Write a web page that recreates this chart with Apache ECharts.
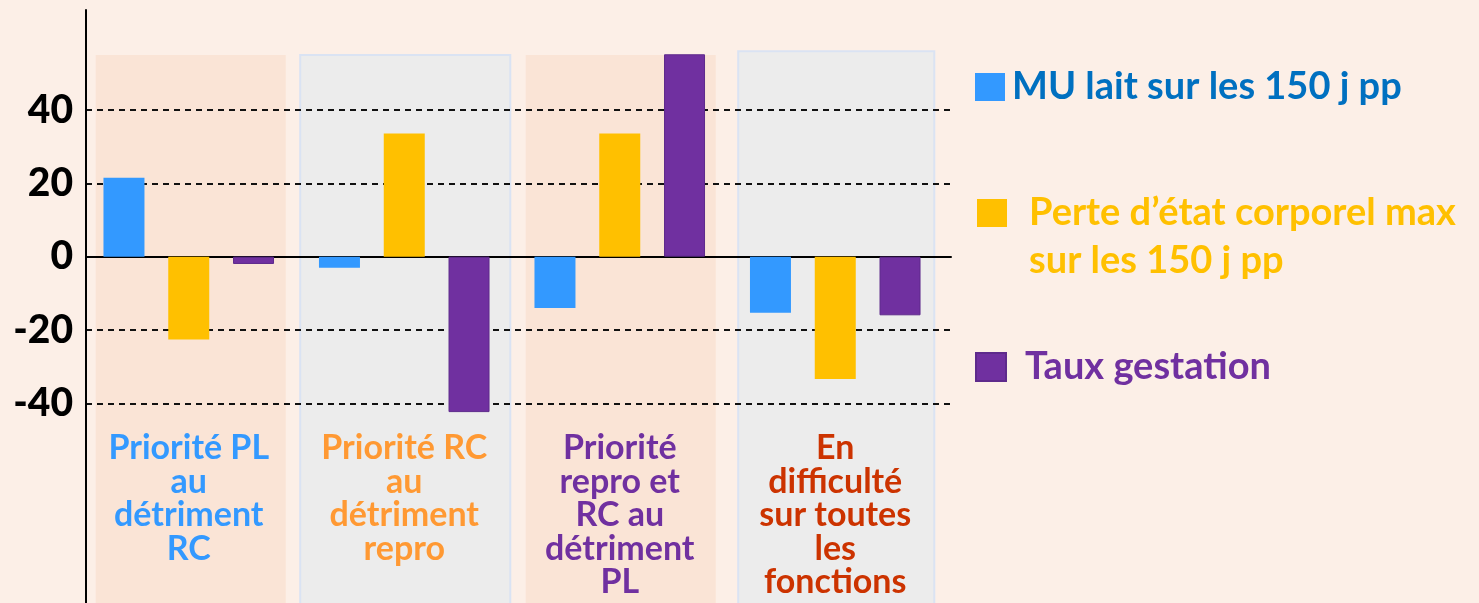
<!DOCTYPE html>
<html><head><meta charset="utf-8">
<script src="https://cdn.jsdelivr.net/npm/echarts@6/dist/echarts.min.js"></script>
<style>html,body{margin:0;padding:0;background:#fcefe7}#c{width:1479px;height:603px}</style>
</head><body><div id="c"></div>
<script>
// ---- data ----
const categories = [
  'Priorité PL\nau\ndétriment\nRC',
  'Priorité RC\nau\ndétriment\nrepro',
  'Priorité\nrepro et\nRC au\ndétriment\nPL',
  'En\ndifficulté\nsur toutes\nles\nfonctions'
];
const seriesNames = ['MU lait sur les 150 j pp', 'Perte d’état corporel max\nsur les 150 j pp', 'Taux gestation'];
const muLait = [21.5, -3, -14, -15.3];
const perteEC = [-22.6, 33.6, 33.6, -33.4];
const tauxGestation = [-2, -42.4, 55.2, -16];
const yMin = -40, yMax = 40, yStep = 20;

// ---- styles ----
const FONT = 'Lato';
const labelColors = ['#3399ff', '#ff9933', '#7030a0', '#cc3300'];
const barColors = ['#3399ff', '#ffc000', '#7030a0'];
const legendTextColors = ['#0070c0', '#ffc000', '#7030a0'];
const panelStyles = [
  {w: 0.882, dx: 2, fill: '#fae4d6', stroke: null, top: 55},
  {w: 0.975, dx: 1, fill: '#ececec', stroke: '#dae3f3', top: 55},
  {w: 0.882, dx: 1, fill: '#fae4d6', stroke: null, top: 55},
  {w: 0.91, dx: 1, fill: '#ececec', stroke: '#dae3f3', top: 56}
];

const chart = echarts.init(document.getElementById('c'), null, {renderer: 'canvas'});
const seriesData = [muLait, perteEC, tauxGestation];

const legendPos = [
  {left: 975, top: 68, pad: [0, 0, 0, 2], lh: 28, fmt: n => n},
  {left: 977, top: 141, pad: [0, 0, 0, 17], lh: 48, fmt: n => '\n' + n},
  {left: 975, top: 348, pad: [0, 0, 0, 14], lh: 28, fmt: n => n}
];

const option = {
  backgroundColor: '#fcefe7',
  animation: false,
  grid: [
    {left: 86, width: 865, top: 110, height: 293.3},   // axes / gridlines
    {left: 81, width: 862, top: 110, height: 293.3},   // bars
    {left: 86, width: 10, top: 10, bottom: 0}          // y axis line
  ],
  xAxis: [
    {gridIndex: 0, type: 'value', min: 0, max: 1, axisLine: {show: true, onZero: true, lineStyle: {color: '#000', width: 2}},
     axisTick: {show: false}, axisLabel: {show: false}, splitLine: {show: false}},
    {gridIndex: 1, type: 'category', data: categories, position: 'bottom',
     axisLine: {show: false}, axisTick: {show: false},
     axisLabel: {interval: 0, margin: 28, fontFamily: FONT, fontWeight: 'bold', fontSize: 34, lineHeight: 33.5,
       verticalAlign: 'top', color: (v, i) => labelColors[i]}},
    {gridIndex: 2, type: 'value', show: false}
  ],
  yAxis: [
    {gridIndex: 0, type: 'value', min: yMin, max: yMax, interval: yStep,
     axisLine: {show: false}, axisTick: {show: false},
     axisLabel: {margin: 13, fontFamily: FONT, fontWeight: 900, fontSize: 39, color: '#000'},
     splitLine: {show: true, lineStyle: {color: '#111', width: 2, type: [6, 5]}}},
    {gridIndex: 1, type: 'value', min: yMin, max: yMax, interval: yStep, show: false},
    {gridIndex: 2, type: 'value', min: 0, max: 1, axisLine: {show: true, lineStyle: {color: '#000', width: 2}},
     axisTick: {show: false}, axisLabel: {show: false}, splitLine: {show: false}}
  ],
  legend: [0, 1, 2].map(i => {
    const pos = legendPos[i];
    return {
      left: pos.left, top: pos.top, padding: 0, orient: 'vertical',
      icon: 'rect', itemWidth: 30, itemHeight: 28, selectedMode: false,
      data: [seriesNames[i]], formatter: pos.fmt,
      textStyle: {color: legendTextColors[i], fontFamily: FONT, fontWeight: 'bold', fontSize: 38,
        lineHeight: pos.lh, padding: pos.pad}
    };
  }),
  series: [
    {
      type: 'custom', xAxisIndex: 1, yAxisIndex: 1, z: -1, clip: false, silent: true,
      data: categories.map((c, i) => [i, 0]),
      renderItem: (params, api) => {
        const idx = api.value(0);
        const st = panelStyles[idx];
        const cx = api.coord([idx, 0])[0] + st.dx;
        const band = api.size([1, 0])[0];
        const w = band * st.w;
        const top = api.coord([idx, st.top])[1];
        const h = api.getHeight() - top + 5;
        return {
          type: 'rect',
          shape: {x: cx - w / 2, y: top, width: w, height: h},
          style: {fill: st.fill, stroke: st.stroke || null, lineWidth: st.stroke ? 2 : 0}
        };
      }
    },
    ...seriesData.map((d, i) => ({
      name: seriesNames[i], type: 'bar', xAxisIndex: 1, yAxisIndex: 1,
      data: d, barWidth: 41, barGap: '58%', clip: false,
      itemStyle: {color: barColors[i], borderColor: i === 2 ? '#5e2a8c' : null, borderWidth: i === 2 ? 1 : 0}
    }))
  ]
};
chart.setOption(option);
</script>
</body></html>
